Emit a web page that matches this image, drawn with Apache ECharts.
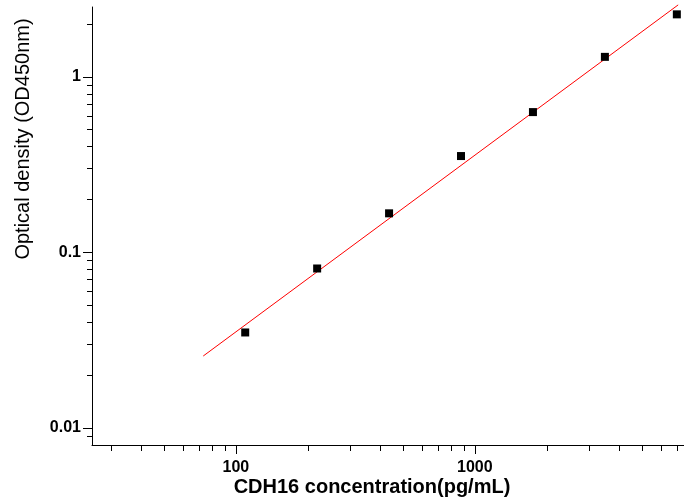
<!DOCTYPE html>
<html>
<head>
<meta charset="utf-8">
<script src="https://cdn.jsdelivr.net/npm/echarts@6/dist/echarts.min.js"></script>
<style>html,body{margin:0;padding:0;background:#fff;}#c{width:684px;height:499px;}</style>
</head>
<body>
<div id="c"></div>
<script>
// Data (real units)
var concentrations = [109.4, 218.8, 437.5, 875, 1750, 3500, 7000];
var opticalDensity = [0.035, 0.081, 0.167, 0.354, 0.63, 1.30, 2.27];
// Fitted line endpoints
var fitX = [73, 7090];
var fitY = [0.0257, 2.57];
// Axis ranges and ticks
var xRange = [25, 7500];
var yRange = [0.008, 2.5];
var xMajorTicks = [100, 1000];
var xMajorLabels = ['100', '1000'];
var xMinorTicks = [30, 40, 50, 60, 70, 80, 90, 200, 300, 400, 500, 600, 700, 800, 900, 2000, 3000, 4000, 5000, 6000, 7000];
var yMajorTicks = [0.01, 0.1, 1];
var yMajorLabels = ['0.01', '0.1', '1'];
var yMinorTicks = [0.009, 0.02, 0.03, 0.04, 0.05, 0.06, 0.07, 0.08, 0.09, 0.2, 0.3, 0.4, 0.5, 0.6, 0.7, 0.8, 0.9, 2];
var xTitle = 'CDH16 concentration(pg/mL)';
var yTitle = 'Optical density (OD450nm)';

var L = Math.log10;
function lookup(ticks, labels) {
  return function (v) {
    for (var i = 0; i < ticks.length; i++) {
      if (Math.abs(L(ticks[i]) - v) < 1e-6) return labels[i];
    }
    return '';
  };
}
var FONT = '"Liberation Sans", Arial, sans-serif';
var lineStyle = { color: '#000', width: 1 };
var gridBox = { left: 92, top: 7, right: 0, bottom: 54, containLabel: false, outerBoundsMode: 'none' };

var chart = echarts.init(document.getElementById('c'), null, { renderer: 'canvas' });
chart.setOption({
  animation: false,
  backgroundColor: '#fff',
  grid: [Object.assign({}, gridBox), Object.assign({}, gridBox)],
  xAxis: [{
    gridIndex: 0, type: 'value', min: L(xRange[0]), max: L(xRange[1]), position: 'bottom',
    axisLine: { show: true, onZero: false, lineStyle: lineStyle },
    axisTick: { show: true, length: 9, lineStyle: lineStyle, customValues: xMajorTicks.map(L) },
    axisLabel: { show: true, margin: 15, fontFamily: FONT, fontWeight: 'bold', fontSize: 16, color: '#000',
      customValues: xMajorTicks.map(L), formatter: lookup(xMajorTicks, xMajorLabels) },
    splitLine: { show: false }
  }, {
    gridIndex: 1, type: 'value', min: L(xRange[0]), max: L(xRange[1]), position: 'bottom',
    axisLine: { show: false, onZero: false },
    axisTick: { show: true, length: 6, lineStyle: lineStyle, customValues: xMinorTicks.map(L) },
    axisLabel: { show: false },
    splitLine: { show: false }
  }],
  yAxis: [{
    gridIndex: 0, type: 'value', min: L(yRange[0]), max: L(yRange[1]), position: 'left',
    axisLine: { show: true, onZero: false, lineStyle: lineStyle },
    axisTick: { show: true, length: 9, lineStyle: lineStyle, customValues: yMajorTicks.map(L) },
    axisLabel: { show: true, margin: 11, fontFamily: FONT, fontWeight: 'bold', fontSize: 16, color: '#000',
      customValues: yMajorTicks.map(L), formatter: lookup(yMajorTicks, yMajorLabels) },
    splitLine: { show: false }
  }, {
    gridIndex: 1, type: 'value', min: L(yRange[0]), max: L(yRange[1]), position: 'left',
    axisLine: { show: false, onZero: false },
    axisTick: { show: true, length: 5, lineStyle: lineStyle, customValues: yMinorTicks.map(L) },
    axisLabel: { show: false },
    splitLine: { show: false }
  }],
  graphic: [{
    type: 'text', x: 372, y: 487,
    style: { text: xTitle, fontFamily: FONT, fontWeight: 'bold', fontSize: 20, fill: '#000',
      textAlign: 'center', textVerticalAlign: 'middle' }
  }, {
    type: 'text', x: 23, y: 139, rotation: Math.PI / 2,
    style: { text: yTitle, fontFamily: FONT, fontSize: 20, fill: '#000',
      textAlign: 'center', textVerticalAlign: 'middle' }
  }],
  series: [{
    type: 'line',
    xAxisIndex: 0, yAxisIndex: 0,
    data: fitX.map(function (x, i) { return [L(x), L(fitY[i])]; }),
    showSymbol: false, symbol: 'none', clip: false,
    lineStyle: { color: '#ff0000', width: 1 },
    z: 2
  }, {
    type: 'scatter',
    xAxisIndex: 0, yAxisIndex: 0,
    data: concentrations.map(function (x, i) { return [L(x), L(opticalDensity[i])]; }),
    symbol: 'rect', symbolSize: 8, clip: false,
    itemStyle: { color: '#000', opacity: 1 },
    z: 3
  }]
});
</script>
</body>
</html>
